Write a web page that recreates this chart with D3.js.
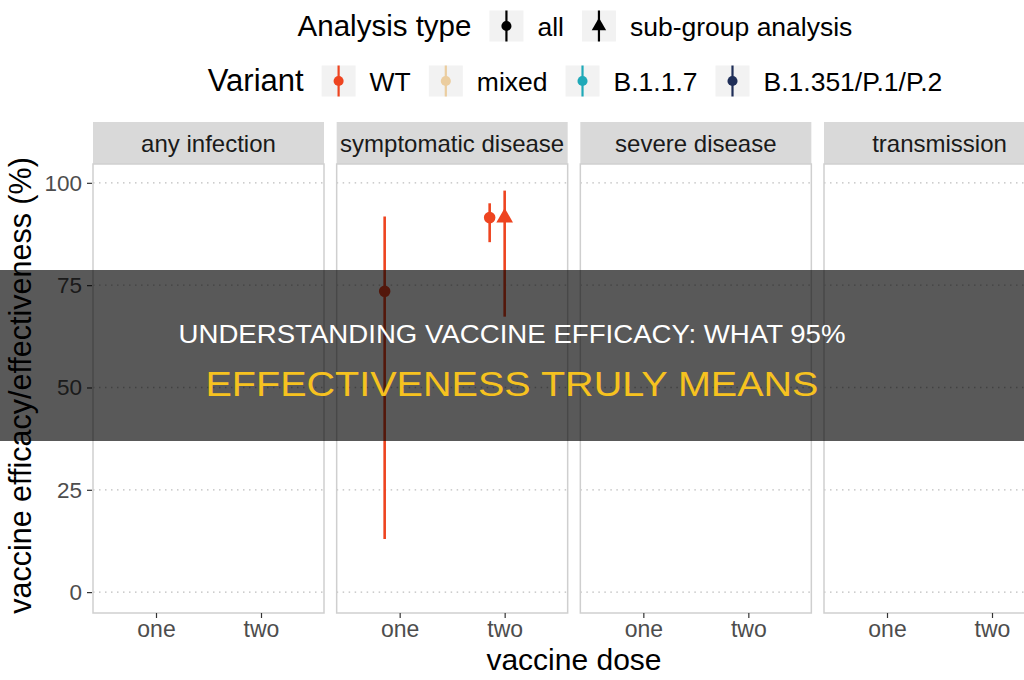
<!DOCTYPE html>
<html lang="en">
<head>
  <meta charset="utf-8">
  <script src="https://d3js.org/d3.v7.min.js"></script>
  <title>Vaccine efficacy by dose</title>
  <style>
    body { margin: 0; background: #fff; }
    svg { font-family: "Liberation Sans", Arial, sans-serif; display: block; }
    .axis path { display: none; }
    .axis line { stroke: #333; stroke-width: 1.2px; }
    .axis text { fill: #4d4d4d; }
  </style>
</head>
<body>
<svg id="chart" width="1024" height="680"></svg>
<script>
// facets, doses, legend entries
var outcomes = ["any infection", "symptomatic disease", "severe disease", "transmission"];
var doses = ["one", "two"];
var analysisTypes = ["all", "sub-group analysis"];
var variants = ["WT", "mixed", "B.1.1.7", "B.1.351/P.1/P.2"];
var variantColors = ["#ee4420", "#ebcd9f", "#1fa9b8", "#1f2e58"];
var yTicks = [0, 25, 50, 75, 100];

// estimates (only symptomatic disease has points)
var estOutcome = ["symptomatic disease", "symptomatic disease", "symptomatic disease"];
var estDose    = ["one", "two", "two"];
var estVariant = ["WT", "WT", "WT"];
var estType    = ["all", "all", "sub-group analysis"];
var estValue   = [73.5, 91.5, 91.5];
var estLow     = [13, 85.5, 67.3];
var estHigh    = [91.8, 95, 98.1];

var bannerLine1 = "UNDERSTANDING VACCINE EFFICACY: WHAT 95%";
var bannerLine2 = "EFFECTIVENESS TRULY MEANS";

var svg = d3.select("#chart");
svg.append("rect").attr("width", 1024).attr("height", 680).attr("fill", "#fff");

var panelTop = 164, panelBottom = 613, stripTop = 122;

var facet = d3.scaleBand()
  .domain(outcomes)
  .range([93, 1055])
  .paddingInner(0.052)
  .paddingOuter(0);

var xscale = d3.scalePoint()
  .domain(doses)
  .range([0, facet.bandwidth()])
  .padding(0.6);

var yscale = d3.scaleLinear()
  .domain([-5.1, 104.6])
  .range([panelBottom, panelTop]);

var dodge = d3.scaleOrdinal().domain(analysisTypes).range([-15, 0]);
var colour = d3.scaleOrdinal().domain(variants).range(variantColors);

var estimates = estValue.map(function(v, i) {
  return { outcome: estOutcome[i], dose: estDose[i], variant: estVariant[i],
           type: estType[i], value: v, low: estLow[i], high: estHigh[i] };
});

// panels
var panels = svg.selectAll("g.panel")
  .data(outcomes)
  .enter().append("g")
    .attr("class", "panel")
    .attr("transform", function(d) { return "translate(" + facet(d) + ",0)"; });

panels.append("rect")
  .attr("y", stripTop)
  .attr("width", facet.bandwidth())
  .attr("height", panelTop - stripTop)
  .attr("fill", "#d9d9d9");

panels.append("text")
  .attr("x", facet.bandwidth() / 2)
  .attr("y", (stripTop + panelTop) / 2 + 8.5)
  .attr("text-anchor", "middle")
  .attr("font-size", "24px")
  .attr("fill", "#1a1a1a")
  .text(function(d) { return d; });

panels.selectAll("line.grid")
  .data(yTicks)
  .enter().append("line")
    .attr("class", "grid")
    .attr("x1", 0).attr("x2", facet.bandwidth())
    .attr("y1", function(d) { return yscale(d); })
    .attr("y2", function(d) { return yscale(d); })
    .attr("stroke", "#bdbdbd")
    .attr("stroke-width", 1.3)
    .attr("stroke-dasharray", "1.5,4.5");

panels.append("rect")
  .attr("y", panelTop)
  .attr("width", facet.bandwidth())
  .attr("height", panelBottom - panelTop)
  .attr("fill", "none")
  .attr("stroke", "#cfcfcf")
  .attr("stroke-width", 1.5);

panels.append("g")
  .attr("class", "axis")
  .attr("transform", "translate(0," + panelBottom + ")")
  .call(d3.axisBottom(xscale).tickSize(5).tickPadding(3))
  .selectAll("text")
    .attr("font-size", "23px")
    .attr("font-family", "Liberation Sans, Arial, sans-serif");

// error bars and points
panels.each(function(outcome) {
  var g = d3.select(this);
  var rows = estimates.filter(function(e) { return e.outcome === outcome; });
  function px(e) { return xscale(e.dose) + dodge(e.type); }

  g.selectAll("line.ci")
    .data(rows)
    .enter().append("line")
      .attr("class", "ci")
      .attr("x1", px).attr("x2", px)
      .attr("y1", function(e) { return yscale(e.low); })
      .attr("y2", function(e) { return yscale(e.high); })
      .attr("stroke", function(e) { return colour(e.variant); })
      .attr("stroke-width", 2.6);

  g.selectAll("path.pt")
    .data(rows)
    .enter().append("path")
      .attr("class", "pt")
      .attr("transform", function(e) { return "translate(" + px(e) + "," + yscale(e.value) + ")"; })
      .attr("d", function(e) {
        var sym = e.type === "all" ? d3.symbolCircle : d3.symbolTriangle;
        return d3.symbol().type(sym).size(e.type === "all" ? 105 : 120)();
      })
      .attr("fill", function(e) { return colour(e.variant); });
});

// y axis
var yAxis = svg.append("g")
  .attr("class", "axis")
  .attr("transform", "translate(92,0)")
  .call(d3.axisLeft(yscale).tickValues(yTicks).tickSize(5).tickPadding(5));
yAxis.selectAll("text")
  .attr("font-size", "22.5px")
  .attr("font-family", "Liberation Sans, Arial, sans-serif");

// axis titles
svg.append("text")
  .attr("x", facet.range()[0] + (facet.range()[1] - facet.range()[0]) / 2)
  .attr("y", 670)
  .attr("text-anchor", "middle")
  .attr("font-size", "30px")
  .attr("fill", "#000")
  .text("vaccine dose");

svg.append("text")
  .attr("transform", "translate(31," + ((panelTop + panelBottom) / 2 - 3) + ") rotate(-90)")
  .attr("text-anchor", "middle")
  .attr("font-size", "30.5px")
  .attr("fill", "#000")
  .text("vaccine efficacy/effectiveness (%)");

// legends
function keyGlyph(g, shape, fill) {
  g.append("rect").attr("width", 34).attr("height", 31).attr("y", -15.5).attr("fill", "#f2f2f2");
  g.append("line")
    .attr("x1", 17).attr("x2", 17).attr("y1", -15.5).attr("y2", 15.5)
    .attr("stroke", fill).attr("stroke-width", 2.2);
  g.append("path")
    .attr("transform", "translate(17,0)")
    .attr("d", d3.symbol().type(shape).size(shape === d3.symbolCircle ? 80 : 90)())
    .attr("fill", fill);
}

function legendRow(title, labels, shapes, fills, cy, titleSize) {
  var row = svg.append("g");
  var x = 0;
  var t = row.append("text").attr("x", x).attr("y", 10)
    .attr("font-size", titleSize).attr("fill", "#000").text(title);
  x += t.node().getComputedTextLength() + 18;
  labels.forEach(function(lab, i) {
    var k = row.append("g").attr("transform", "translate(" + x + ",0)");
    keyGlyph(k, shapes[i], fills[i]);
    x += 34 + 14;
    var lt = row.append("text").attr("x", x).attr("y", 9.5)
      .attr("font-size", "26.5px").attr("fill", "#000").text(lab);
    x += lt.node().getComputedTextLength() + 18;
  });
  x -= 18;
  row.attr("transform", "translate(" + (575 - x / 2) + "," + cy + ")");
}

legendRow("Analysis type", analysisTypes,
  [d3.symbolCircle, d3.symbolTriangle], ["#000", "#000"], 26, "29.5px");
legendRow("Variant", variants,
  variants.map(function() { return d3.symbolCircle; }), variantColors, 81, "31px");

// title banner over the chart
svg.append("rect")
  .attr("x", 0).attr("y", 270)
  .attr("width", 1024).attr("height", 171)
  .attr("fill", "rgba(0,0,0,0.65)");

svg.append("text")
  .attr("x", 512).attr("y", 343)
  .attr("text-anchor", "middle")
  .attr("font-family", "'Liberation Sans', Arial, sans-serif")
  .attr("font-size", "25px")
  .attr("textLength", 667)
  .attr("lengthAdjust", "spacingAndGlyphs")
  .attr("fill", "#fff")
  .text(bannerLine1);

svg.append("text")
  .attr("x", 512).attr("y", 396)
  .attr("text-anchor", "middle")
  .attr("font-family", "'Liberation Sans', Arial, sans-serif")
  .attr("font-size", "34.5px")
  .attr("textLength", 613)
  .attr("lengthAdjust", "spacingAndGlyphs")
  .attr("fill", "#f6c21f")
  .text(bannerLine2);
</script>
</body>
</html>
